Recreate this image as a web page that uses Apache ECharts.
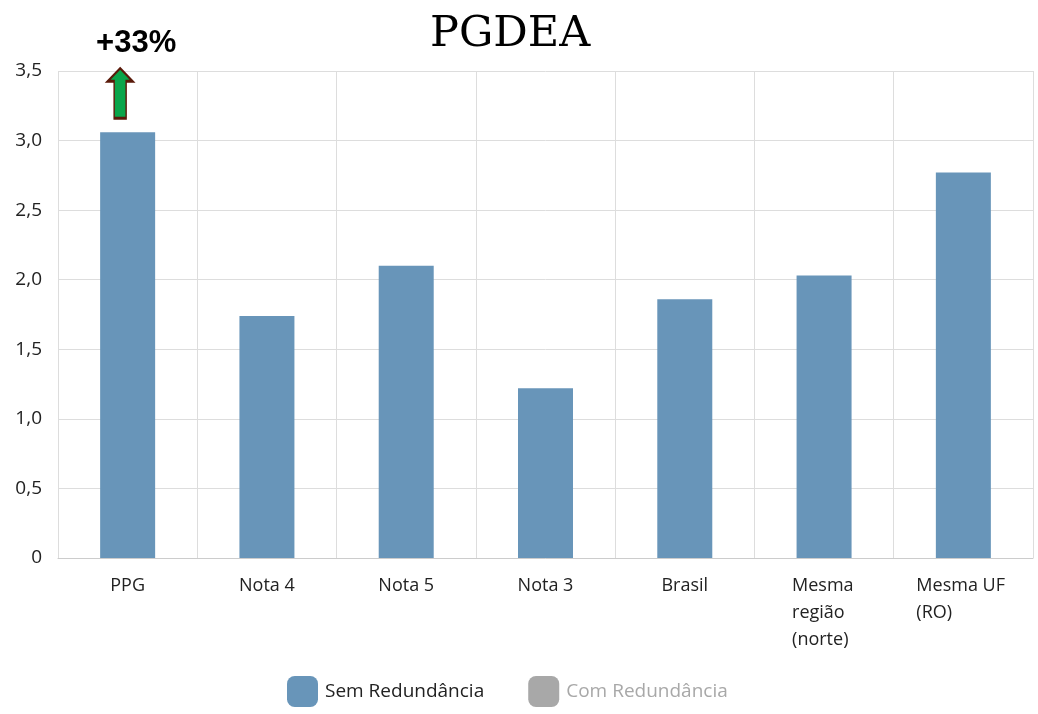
<!DOCTYPE html>
<html>
<head>
<meta charset="utf-8">
<title>PGDEA</title>
<script src="https://cdn.jsdelivr.net/npm/echarts@6/dist/echarts.min.js"></script>
<style>
    html, body { margin: 0; padding: 0; background: #fff; }
    #chart { width: 1038px; height: 714px; }
</style>
</head>
<body>
<div id="chart"></div>
<script>

// Data
var categories = ['PPG', 'Nota 4', 'Nota 5', 'Nota 3', 'Brasil', 'Mesma\nregião\n(norte)', 'Mesma UF\n(RO)'];
var semRedundancia = [3.06, 1.74, 2.10, 1.22, 1.86, 2.03, 2.77];
var comRedundancia = [];
var yTicks = [0, 0.5, 1, 1.5, 2, 2.5, 3, 3.5];
var highlight = { category: 'PPG', value: 3.06, text: '+33%' };

var chartElement = document.getElementById('chart');
var chart = echarts.init(chartElement);

// Arrow shape for the annotation
var arrowPath = 'path://M12.5,0 L25,13 L18.5,13 L18.5,50 L6.5,50 L6.5,13 L0,13 Z';

// Multi-line labels: lines left aligned inside a centred block
var labelFormatter = function (value) {
    if (value.indexOf('\n') < 0) {
        return value;
    }
    var lines = value.split('\n');
    var style = lines[0].length > 6 ? 'wide' : 'narrow';
    return lines.map(function (l) {
        return '{' + style + '|' + l + '}';
    }).join('\n');
};

chart.setOption({

    animation: false,

    textStyle: {
        fontFamily: '"Open Sans", sans-serif'
    },

    // Title
    title: {
        text: 'PGDEA',
        left: 425,
        top: 8,
        textStyle: {
            fontFamily: '"DejaVu Serif", serif',
            fontSize: 43,
            fontWeight: 'normal',
            color: '#000'
        }
    },

    // Legend
    legend: {
        bottom: 2,
        left: 282,
        icon: 'roundRect',
        itemWidth: 31,
        itemHeight: 31,
        itemGap: 44,
        inactiveColor: '#a8a8a8',
        selected: { 'Com Redundância': false },
        textStyle: {
            fontSize: 19,
            color: '#222',
            padding: [0, 0, 0, 2]
        },
        data: ['Sem Redundância', 'Com Redundância']
    },

    // Setup grid
    grid: {
        left: 58,
        right: 5,
        top: 71,
        bottom: 156
    },

    // Horizontal axis
    xAxis: {
        type: 'category',
        data: categories,
        axisTick: { show: false },
        axisLine: {
            lineStyle: { color: '#ccc' }
        },
        axisLabel: {
            margin: 14,
            fontSize: 18,
            lineHeight: 27,
            color: '#222',
            interval: 0,
            formatter: labelFormatter,
            rich: {
                narrow: { width: 64, align: 'left', fontSize: 18, lineHeight: 27, color: '#222' },
                wide: { width: 94, align: 'left', fontSize: 18, lineHeight: 27, color: '#222' }
            }
        },
        splitLine: {
            show: true,
            lineStyle: { color: '#ddd' }
        }
    },

    // Vertical axis
    yAxis: {
        type: 'value',
        min: yTicks[0],
        max: yTicks[yTicks.length - 1],
        interval: 0.5,
        axisLine: { show: false },
        axisTick: { show: false },
        axisLabel: {
            margin: 16,
            fontSize: 19,
            color: '#222',
            formatter: function (v) {
                return v === 0 ? '0' : v.toFixed(1).replace('.', ',');
            }
        },
        splitLine: {
            lineStyle: { color: '#ddd' }
        }
    },

    // Add series
    series: [
        {
            name: 'Sem Redundância',
            type: 'bar',
            barWidth: 55,
            itemStyle: { color: '#6895b9' },
            data: semRedundancia,
            markPoint: {
                symbol: arrowPath,
                symbolSize: [25, 50],
                symbolOffset: [-7.5, -39],
                itemStyle: {
                    color: '#0aa54a',
                    borderColor: '#5a1a0a',
                    borderWidth: 2
                },
                label: {
                    show: true,
                    position: 'top',
                    distance: 8,
                    offset: [16, 0],
                    formatter: highlight.text,
                    fontFamily: '"Liberation Sans", Arial, sans-serif',
                    fontSize: 31,
                    fontWeight: 'bold',
                    color: '#000'
                },
                data: [
                    { coord: [highlight.category, highlight.value] }
                ]
            }
        },
        {
            name: 'Com Redundância',
            type: 'bar',
            barWidth: 55,
            itemStyle: { color: '#aaa' },
            data: comRedundancia
        }
    ]
});

// Resize
window.addEventListener('resize', function () {
    chart.resize();
});

</script>
</body>
</html>
